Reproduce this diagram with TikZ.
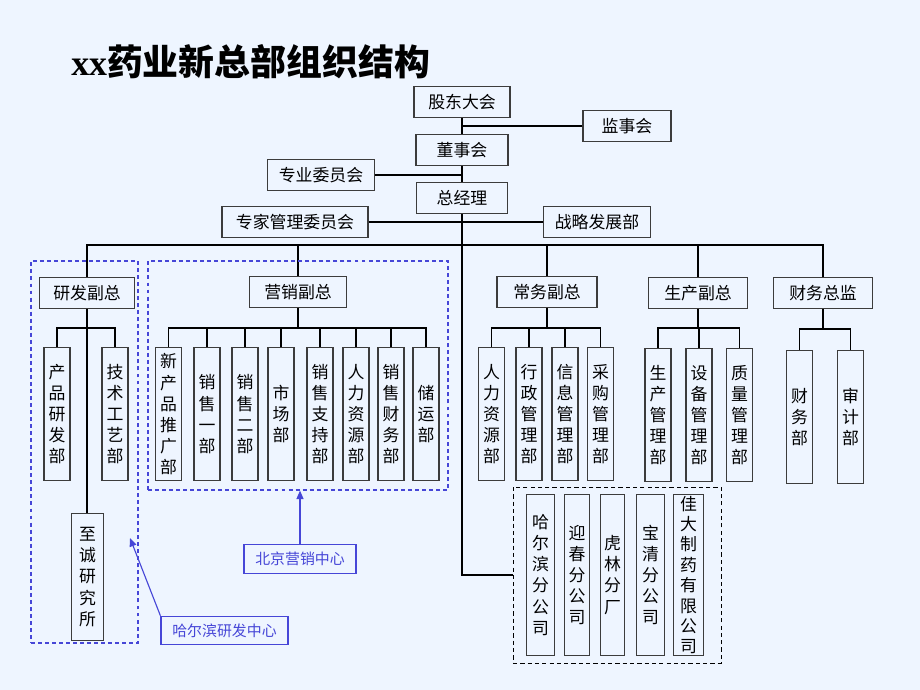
\documentclass[tikz,border=0pt]{standalone}
\usepackage{fontspec}
\setmainfont{Noto Sans CJK SC}
\newfontfamily\titlelatin{Liberation Serif}
\usetikzlibrary{arrows.meta}
\definecolor{pagebg}{RGB}{238,245,255}
\definecolor{edgegray}{RGB}{60,60,60}
\definecolor{markblue}{RGB}{70,70,215}

\begin{document}
\begin{tikzpicture}[x=0.025cm, y=-0.025cm,
    box/.style={draw=edgegray, line width=0.8pt, inner sep=0pt, font=\fontsize{12}{15}\selectfont},
    hbox/.style={box, minimum height=0.78cm},
    vbox/.style={box, align=center, anchor=north, minimum width=0.65cm, minimum height=3.33cm},
    subbox/.style={box, align=center, anchor=north, minimum width=0.68cm, minimum height=4.02cm},
    link/.style={draw=black, line width=0.8pt},
    region/.style={draw=markblue, line width=0.8pt, dash pattern=on 2.8pt off 2.2pt, inner sep=0pt},
    note/.style={draw=markblue, line width=0.8pt, text=markblue, inner sep=0pt, minimum height=0.71cm, font=\fontsize{10.6}{12}\selectfont},
    pointer/.style={draw=markblue, line width=0.8pt, -{Triangle[length=6pt,width=5pt]}}]
    \fill[pagebg] (0,0) rectangle (920,690);
    \useasboundingbox (0,0) rectangle (920,690);

    \node[anchor=west, inner sep=0pt] (title) at (71,62)
        {\fontsize{25.5}{30}\selectfont\bfseries{\titlelatin xx}药业新总部组织结构};

    % top of the chart
    \node[hbox, minimum width=2.4cm] (gd) at (462,102) {股东大会};
    \node[hbox, minimum width=2.2cm] (jsh) at (627,126) {监事会};
    \node[hbox, minimum width=2.3cm] (ds) at (462,150) {董事会};
    \node[hbox, minimum width=2.675cm] (zywy) at (321,175) {专业委员会};
    \node[hbox, minimum width=2.275cm] (zjl) at (462,198) {总经理};
    \node[hbox, minimum width=3.65cm] (zjgl) at (295,222) {专家管理委员会};
    \node[hbox, minimum width=2.675cm] (zlfz) at (597,222) {战略发展部};

    \draw[link] (gd) -- (ds);
    \draw[link] (jsh.west) -- (jsh.west -| gd.south);
    \draw[link] (zywy.east) -- (zywy.east -| ds.south);
    \draw[link] (ds) -- (zjl);
    \draw[link] (zjgl.east) -- (zlfz.west);

    % vice presidents
    \node[hbox, minimum width=2.375cm] (yf) at (87,293) {研发副总};
    \node[hbox, minimum width=2.425cm] (yx) at (298,292) {营销副总};
    \node[hbox, minimum width=2.5cm] (cw) at (547,292) {常务副总};
    \node[hbox, minimum width=2.475cm] (sc) at (698,293) {生产副总};
    \node[hbox, minimum width=2.475cm] (cj) at (823,293) {财务总监};

    \coordinate (bus) at (462,245);
    \draw[link] (yf.north) |- (bus) -| (cj.north);
    \foreach \v in {yx,cw,sc}
        \draw[link] (\v.north) -- (\v.north |- bus);

    % research
    \node[vbox] (cpyf) at (57,347) {产\\品\\研\\发\\部};
    \node[vbox] (jsgy) at (115,347) {技\\术\\工\\艺\\部};
    \node[vbox, minimum width=0.78cm, minimum height=3.17cm] (zcyj) at (87.5,513) {至\\诚\\研\\究\\所};
    \coordinate (yfb) at (87,328);
    \foreach \c in {cpyf,jsgy}
        \draw[link] (\c.north) |- (yfb);
    \draw[link] (yf.south) -- (yf.south |- zcyj.north);

    % marketing
    \node[vbox] (xcp) at (168.5,347) {新\\产\\品\\推\\广\\部};
    \node[vbox] (xs1) at (207,347) {销\\售\\一\\部};
    \node[vbox] (xs2) at (245,347) {销\\售\\二\\部};
    \node[vbox] (scb) at (281,347) {市\\场\\部};
    \node[vbox] (xszc) at (320,347) {销\\售\\支\\持\\部};
    \node[vbox] (rlzy) at (356,347) {人\\力\\资\\源\\部};
    \node[vbox] (xscw) at (391,347) {销\\售\\财\\务\\部};
    \node[vbox] (cy) at (426,347) {储\\运\\部};
    \coordinate (yxb) at (298,328);
    \foreach \c in {xcp,xs1,xs2,scb,xszc,rlzy,xscw,cy}
        \draw[link] (\c.north) |- (yxb);
    \draw[link] (yx.south) -- (yxb);

    % general affairs
    \node[vbox] (cwrl) at (491.5,347) {人\\力\\资\\源\\部};
    \node[vbox] (xzgl) at (529,347) {行\\政\\管\\理\\部};
    \node[vbox] (xxgl) at (565,347) {信\\息\\管\\理\\部};
    \node[vbox] (cggl) at (600.5,347) {采\\购\\管\\理\\部};
    \coordinate (cwb) at (547,328);
    \foreach \c in {cwrl,xzgl,xxgl,cggl}
        \draw[link] (\c.north) |- (cwb);
    \draw[link] (cw.south) -- (cwb);

    % production
    \node[vbox] (scgl) at (658,348) {生\\产\\管\\理\\部};
    \node[vbox] (sbgl) at (699,348) {设\\备\\管\\理\\部};
    \node[vbox] (zlgl) at (739.5,348) {质\\量\\管\\理\\部};
    \coordinate (scbus) at (698,328);
    \foreach \c in {scgl,sbgl,zlgl}
        \draw[link] (\c.north) |- (scbus);
    \draw[link] (sc.south) -- (scbus);

    % finance
    \node[vbox] (cwb2) at (799.5,350) {财\\务\\部};
    \node[vbox] (sjb) at (850.5,350) {审\\计\\部};
    \coordinate (cjb) at (823,329);
    \foreach \c in {cwb2,sjb}
        \draw[link] (\c.north) |- (cjb);
    \draw[link] (cj.south) -- (cjb);

    % subsidiaries
    \node[draw=black, line width=0.6pt, dash pattern=on 3pt off 2.2pt, minimum width=5.2cm, minimum height=4.4cm] (subs) at (617,575) {};
    \node[subbox] (hrb) at (540.5,494) {哈\\尔\\滨\\分\\公\\司};
    \node[subbox, minimum width=0.62cm] (yc) at (577,494) {迎\\春\\分\\公\\司};
    \node[subbox, minimum width=0.62cm] (hl) at (612.5,494) {虎\\林\\分\\厂};
    \node[subbox, minimum width=0.72cm] (bq) at (650.5,494) {宝\\清\\分\\公\\司};
    \node[subbox, minimum width=0.77cm, font=\fontsize{12}{14.5}\selectfont] (jd) at (688.5,494) {佳\\大\\制\\药\\有\\限\\公\\司};
    \draw[link] (zjl.south) |- (subs.west);

    % centres
    \node[region, minimum width=2.675cm, minimum height=9.55cm] (yfzx) at (84.5,452) {};
    \node[region, minimum width=7.5cm, minimum height=5.725cm] (yxzx) at (298,375.5) {};
    \node[note, minimum width=2.8cm] (bjyx) at (300,559) {北京营销中心};
    \node[note, minimum width=3.175cm] (hrbyf) at (224.5,630.5) {哈尔滨研发中心};
    \coordinate (yftip) at (130,538);
    \draw[pointer] (bjyx.north) -- (bjyx.north |- yxzx.south);
    \draw[pointer] (hrbyf.north west) -- (yftip);
\end{tikzpicture}
\end{document}
